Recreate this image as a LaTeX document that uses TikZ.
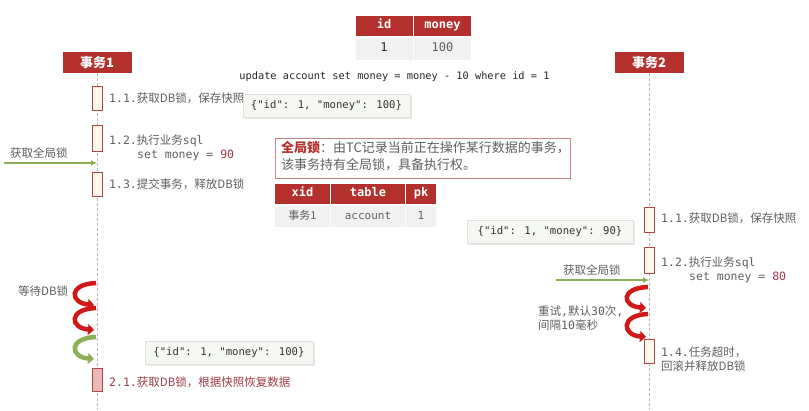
\documentclass[tikz,border=0pt]{standalone}
\usepackage{fontspec}
\setmainfont{Noto Sans CJK SC}
\newfontfamily\mono{DejaVu Sans Mono}
\usetikzlibrary{arrows.meta,shadows}
\definecolor{hdr}{HTML}{B3302D}
\definecolor{txt}{HTML}{5F5F5F}
\definecolor{numred}{HTML}{A23A4A}
\definecolor{actred}{HTML}{B04545}
\definecolor{cream}{HTML}{FFF8EC}
\definecolor{pinkfill}{HTML}{EBB8B8}
\definecolor{garr}{HTML}{8DAF55}
\definecolor{rarr}{HTML}{D01818}
\definecolor{jsonfill}{HTML}{F4F7F2}
\definecolor{jsonline}{HTML}{DDE2DA}
\definecolor{cellfill}{HTML}{F1F1F1}
\definecolor{noteline}{HTML}{C98787}
\definecolor{lifegray}{HTML}{B8B8B8}
\tikzset{
  hdrbox/.style={fill=hdr, text=white, font=\fontsize{13}{15}\selectfont\bfseries, minimum width=69pt, minimum height=21pt, inner sep=0pt},
  lifeline/.style={draw=lifegray, dashed, dash pattern=on 3pt off 2pt, line width=0.7pt},
  act/.style={draw=actred, fill=cream, line width=0.9pt, minimum width=10pt, inner sep=0pt},
  lbl/.style={text=txt, font=\fontsize{11.5}{13}\selectfont, anchor=west, inner sep=0pt},
  th/.style={fill=hdr, draw=white, line width=1pt, text=white, font=\mono\bfseries\fontsize{12}{14}\selectfont, inner sep=0pt, text height=8.5pt, text depth=2.5pt},
  td/.style={fill=cellfill, draw=white, line width=1pt, text=txt, font=\mono\fontsize{11}{13}\selectfont, inner sep=0pt, text height=8.5pt, text depth=2pt},
  json/.style={fill=jsonfill, draw=jsonline, line width=0.6pt, text=black!80, font=\mono\fontsize{10.6}{12}\selectfont, minimum height=23pt, inner sep=0pt, drop shadow={opacity=0.18, shadow xshift=1.5pt, shadow yshift=-1.5pt}},
  garrow/.style={draw=garr, line width=2pt, -{Latex[length=6pt,width=6pt]}},
  rcurve/.style={draw=rarr, line width=4.5pt, -{Triangle[length=6pt,width=11pt]}},
  gcurve/.style={draw=garr, line width=4.5pt, -{Triangle[length=6pt,width=11pt]}},
}
\begin{document}
\begin{tikzpicture}[x=1pt,y=-1pt]
\useasboundingbox (0,0) rectangle (809,410);
\fill[white] (0,0) rectangle (809,410);

% top table
\node[th, minimum width=58pt, minimum height=21pt] (hid) at (384,25.5) {id};
\node[th, minimum width=58pt, minimum height=21pt] (hmoney) at (442.5,25.5) {money};
\node[td, minimum width=58pt, minimum height=23pt, text=black!85, font=\mono\fontsize{12}{14}\selectfont] (rid) at (384,48.5) {1};
\node[td, minimum width=58pt, minimum height=23pt, font=\mono\fontsize{12}{14}\selectfont] (rmoney) at (442.5,48.5) {100};

\node[text=black!85, font=\mono\fontsize{10.3}{12}\selectfont, inner sep=0pt] (sql) at (394.5,77) {update account set money = money - 10 where id = 1};

% headers and lifelines
\node[hdrbox] (t1) at (97,62.5) {事务1};
\node[hdrbox] (t2) at (649,62.5) {事务2};
\coordinate (e1) at (97,410);
\coordinate (e2) at (649,410);
\draw[lifeline] (t1.south) -- (e1);
\draw[lifeline] (t2.south) -- (e2);

% transaction 1
\node[act, minimum height=24pt] (a11) at (97,98) {};
\node[act, minimum height=26pt] (a12) at (97,138) {};
\node[act, minimum height=24pt] (a13) at (97,184) {};
\node[lbl] (l11) at (109,98) {{\mono 1.1.}获取DB锁，保存快照};
\node[lbl] (l12) at (109,141) {{\mono 1.2.}执行业务{\mono sql}};
\node[lbl] (l12b) at (137,155) {{\mono set money = }{\mono\color{numred}90}};
\node[lbl] (l13) at (109,184) {{\mono 1.3.}提交事务，释放DB锁};

\node[lbl] (g1t) at (10,153) {获取全局锁};
\coordinate (g1s) at (4,163);
\coordinate (g1e) at (97,163);
\draw[garrow] (g1s) -- (g1e);

\node[json, minimum width=167pt] (j1) at (326.5,105.5) {\{"id": 1, "money": 100\}};

% global lock note
\node[draw=noteline, line width=0.8pt, minimum width=295pt, minimum height=40pt, inner sep=0pt] (note) at (422.5,158) {};
\node[lbl, font=\fontsize{13}{17}\selectfont, align=left, anchor=north west] (notet) at (281,141.5) {{\color{hdr}\bfseries 全局锁}：由TC记录当前正在操作某行数据的事务，\\该事务持有全局锁，具备执行权。};

% xid table
\node[th, minimum width=56pt, minimum height=21pt] (hxid) at (302.5,193.5) {xid};
\node[th, minimum width=75pt, minimum height=21pt] (htab) at (368,193.5) {table};
\node[th, minimum width=31pt, minimum height=21pt] (hpk) at (421,193.5) {pk};
\node[td, minimum width=56pt, minimum height=22pt, font=\fontsize{11}{13}\selectfont] (rxid) at (302.5,216) {事务1};
\node[td, minimum width=75pt, minimum height=22pt] (rtab) at (368,216) {account};
\node[td, minimum width=31pt, minimum height=22pt] (rpk) at (421,216) {1};

% transaction 2
\node[act, minimum height=25pt] (a21) at (649,219.5) {};
\node[act, minimum height=26pt] (a22) at (649,260) {};
\node[act, minimum height=24pt] (a24) at (649,351) {};
\node[lbl] (m11) at (661,218) {{\mono 1.1.}获取DB锁，保存快照};
\node[lbl] (m12) at (661,263) {{\mono 1.2.}执行业务{\mono sql}};
\node[lbl] (m12b) at (689,277) {{\mono set money = }{\mono\color{numred}80}};
\node[lbl] (m14) at (661,352) {{\mono 1.4.}任务超时，};
\node[lbl] (m14b) at (661,366) {回滚并释放DB锁};

\node[json, minimum width=166pt] (j2) at (550,231.5) {\{"id": 1, "money": 90\}};

\node[lbl] (g2t) at (563,270) {获取全局锁};
\coordinate (g2s) at (556,280);
\coordinate (g2e) at (649,280);
\draw[garrow] (g2s) -- (g2e);

\coordinate (r1a) at (648,287);
\coordinate (r1b) at (646,308);
\coordinate (r2a) at (648,314);
\coordinate (r2b) at (646,337);
\draw[rcurve] (r1a) .. controls (620,288) and (622,306) .. (r1b);
\draw[rcurve] (r2a) .. controls (620,315) and (622,335) .. (r2b);
\node[lbl] (retry1) at (538,311) {重试{\mono ,}默认{\mono 30}次{\mono ,}};
\node[lbl] (retry2) at (538,325) {间隔{\mono 10}毫秒};

% waiting on transaction 1
\node[lbl] (wait) at (18,291) {等待DB锁};
\coordinate (w1a) at (96,283);
\coordinate (w1b) at (94,305);
\coordinate (w2a) at (96,308);
\coordinate (w2b) at (94,330);
\coordinate (w3a) at (96,337);
\coordinate (w3b) at (94,359);
\draw[rcurve] (w1a) .. controls (68,284) and (70,303) .. (w1b);
\draw[rcurve] (w2a) .. controls (68,309) and (70,328) .. (w2b);
\draw[gcurve] (w3a) .. controls (68,338) and (70,357) .. (w3b);

\node[json, minimum width=168pt] (j3) at (229,352.5) {\{"id": 1, "money": 100\}};
\node[act, fill=pinkfill, minimum height=23pt] (a21b) at (97,379.5) {};
\node[lbl, text=numred] (l21) at (109,382) {{\mono 2.1.}获取DB锁，根据快照恢复数据};
\end{tikzpicture}
\end{document}
